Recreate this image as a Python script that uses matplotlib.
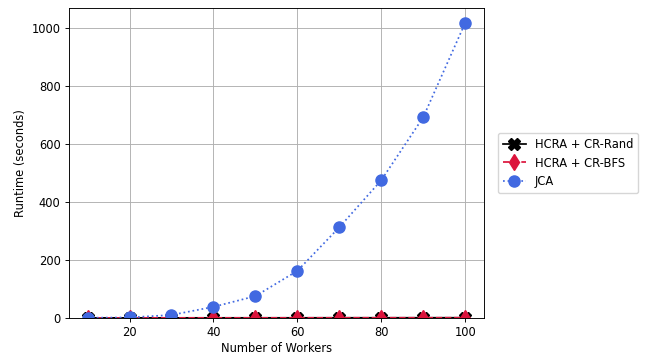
import matplotlib
matplotlib.use("Agg")
import matplotlib.pyplot as plt

workers = [10, 20, 30, 40, 50, 60, 70, 80, 90, 100]
hcra_rand = [0.05, 0.1, 0.15, 0.2, 0.25, 0.3, 0.4, 0.45, 0.5, 0.6]
hcra_bfs = [0.05, 0.1, 0.15, 0.2, 0.25, 0.3, 0.4, 0.45, 0.5, 0.6]
jca = [0.5, 1.5, 10, 38, 75, 162, 312, 474, 691, 1016]

s = 0.83
plt.rcParams.update({
    'font.size': 10 * s,
    'lines.linewidth': 1.5 * s,
    'axes.linewidth': 0.8 * s,
    'grid.linewidth': 0.8 * s,
    'xtick.major.width': 0.8 * s,
    'ytick.major.width': 0.8 * s,
    'xtick.major.size': 3.5 * s,
    'ytick.major.size': 3.5 * s,
    'xtick.major.pad': 3.5 * s,
    'ytick.major.pad': 3.5 * s,
    'axes.labelpad': 4.0 * s,
})

fig = plt.figure(figsize=(6.48, 3.54), dpi=100)
ax = fig.add_axes([0.106, 0.102, 0.641, 0.875])

ax.plot(workers, hcra_rand, color='black', marker='X', linestyle='-', markersize=8, label='HCRA + CR-Rand')
ax.plot(workers, hcra_bfs, color='crimson', marker='d', linestyle='--', markersize=8, label='HCRA + CR-BFS')
ax.plot(workers, jca, color='royalblue', marker='o', linestyle=':', markersize=8, label='JCA')

ax.set_ylim(bottom=0)
ax.set_xlabel('Number of Workers', labelpad=2.5)
ax.set_ylabel('Runtime (seconds)')
ax.grid(True)
ax.legend(loc='center left', bbox_to_anchor=(1.02, 0.5))

fig.savefig('out.png', dpi=100)
